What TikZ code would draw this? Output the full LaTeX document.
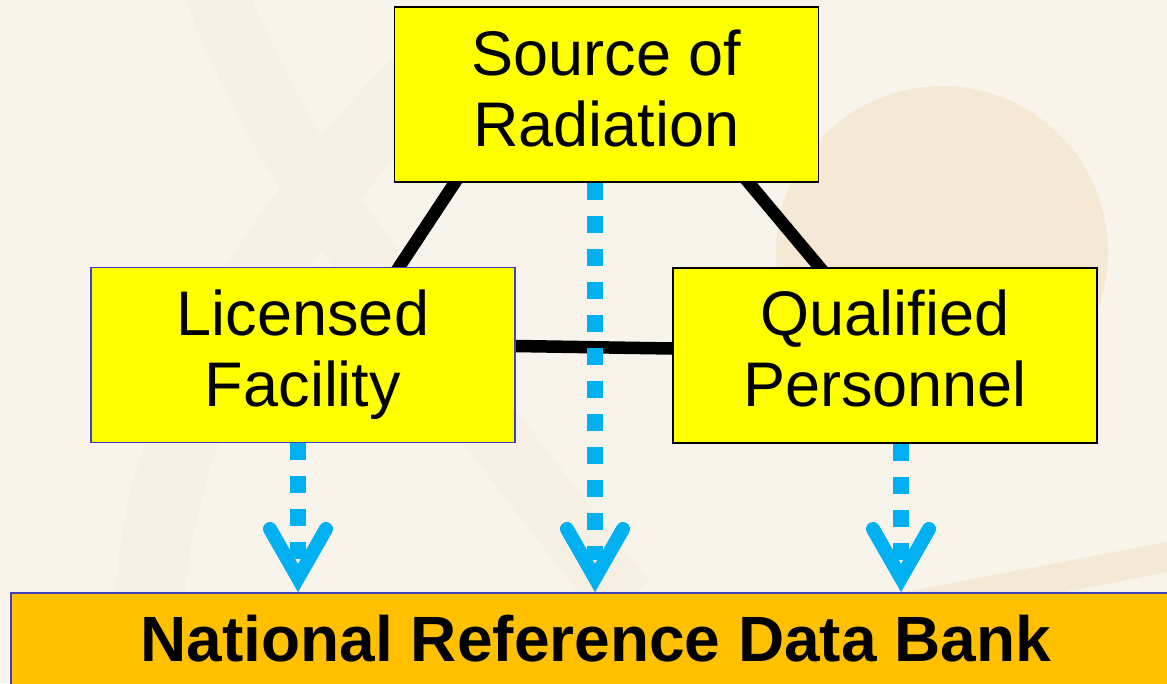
\documentclass[tikz,border=0pt]{standalone}
\usepackage{fontspec}
\setmainfont{Liberation Sans}
\usetikzlibrary{calc}
\pgfdeclarelayer{back}
\pgfdeclarelayer{background}
\pgfsetlayers{back,background,main}
\definecolor{bg}{HTML}{F8F4EC}
\definecolor{band}{HTML}{F6EFE3}
\definecolor{disc}{HTML}{F5E9D6}
\definecolor{boxyellow}{HTML}{FFFF00}
\definecolor{bankorange}{HTML}{FFC000}
\definecolor{flowblue}{HTML}{00B0F0}
\definecolor{edgeblue}{HTML}{4040C0}
\tikzset{
  ybox/.style={draw=black, line width=1.5pt, fill=boxyellow, inner sep=0pt,
    minimum width=424pt, minimum height=175pt, align=center,
    font=\fontsize{63}{71}\selectfont},
  bankbox/.style={draw=edgeblue, line width=2pt, fill=bankorange, inner sep=0pt,
    minimum width=1170pt, minimum height=92pt,
    font=\fontsize{64}{72}\selectfont\bfseries},
  link/.style={draw=black, line width=12.5pt, shorten <=-8pt, shorten >=-8pt},
  flow/.style={draw=flowblue, line width=16pt, dash pattern=on 17pt off 16pt},
  vhead/.style={draw=flowblue, line width=14pt, line cap=round, line join=miter},
}
\begin{document}
\begin{tikzpicture}[x=1pt,y=-1pt]
\useasboundingbox (0,0) rectangle (1167,683);
\begin{pgfonlayer}{back}
\fill[bg] (0,0) rectangle (1167,683);
% faint background decoration
\fill[disc] (942,252) circle (166pt);
\draw[band, line width=62pt] (215,-10) .. controls (250,80) and (300,170) .. (360,250) .. controls (460,390) and (560,520) .. (625,600);
\draw[band, line width=70pt] (420,80) .. controls (330,170) and (230,300) .. (190,420) .. controls (160,500) and (150,560) .. (150,620);
\fill[disc] (900,593) -- (1167,542) -- (1167,572) -- (1060,593) -- cycle;
\end{pgfonlayer}

% boxes
\node[ybox] (src) at (606.5,94.5) {Source of\\Radiation\vphantom{y}};
\node[ybox, draw=edgeblue] (lf) at (303,355) {Licensed\\Facility};
\node[ybox, line width=2pt] (qp) at (885,355) {Qualified\\Personnel\vphantom{y}};

% black links (behind the boxes)
\begin{pgfonlayer}{background}
\draw[link] ($(src.south west)+(61,0)$) -- ($(lf.north west)+(309,0)$);
\draw[link] ($(src.south east)+(-70.5,0)$) -- ($(qp.north west)+(147,0)$);
\draw[link] ($(lf.east)+(0,-9)$) -- ($(qp.west)+(0,-6.5)$);
\end{pgfonlayer}

% tips of the arrows
\coordinate (t1) at (298,578);
\coordinate (t2) at (595,578);
\coordinate (t3) at (901,578);

% dashed flows
\draw[flow] (lf.south -| t1) -- ($(t1)+(0,-18)$);
\draw[flow] (src.south -| t2) -- ($(t2)+(0,-18)$);
\draw[flow] (qp.south -| t3) -- ($(t3)+(0,-18)$);
\foreach \t in {t1,t2,t3}{
  \draw[vhead] ($(\t)+(-28,-49)$) -- (\t) -- ($(\t)+(28,-49)$);
}

\node[bankbox] (bank) at (596,639) {National Reference Data Bank};
\end{tikzpicture}
\end{document}
